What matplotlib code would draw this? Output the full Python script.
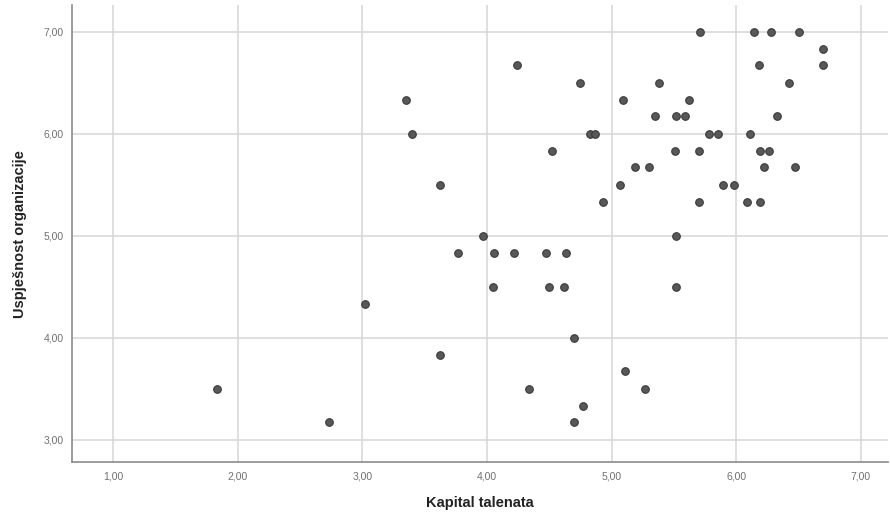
import numpy as np
import matplotlib
matplotlib.use('Agg')
import matplotlib.pyplot as plt
from matplotlib.ticker import FuncFormatter

plt.rcParams['font.family'] = ['Liberation Sans', 'DejaVu Sans']

# Kapital talenata (x) i Uspješnost organizacije (y)
kapital = [1.83, 2.73, 3.02, 3.35, 3.40, 3.62, 3.62,
           5.71, 6.14, 6.28, 6.50, 6.70,
           4.24, 6.18, 6.70,
           4.75, 5.38, 6.42,
           5.09, 5.62,
           5.35, 5.52, 5.59, 6.33,
           4.83, 4.87, 5.78, 5.85, 6.11,
           4.52, 5.51, 5.70, 6.19, 6.26,
           5.19, 5.30, 6.22, 6.47,
           5.07, 5.89, 5.98,
           4.93, 5.70, 6.09, 6.19,
           3.97, 5.52,
           3.77, 4.06, 4.22, 4.47, 4.63,
           4.05, 4.50, 4.62, 5.52,
           4.70,
           5.11,
           4.34, 5.27,
           4.77,
           4.70]
uspjesnost = [3.50, 3.17, 4.33, 6.33, 6.00, 5.50, 3.83,
              7.00, 7.00, 7.00, 7.00, 6.83,
              6.67, 6.67, 6.67,
              6.50, 6.50, 6.50,
              6.33, 6.33,
              6.17, 6.17, 6.17, 6.17,
              6.00, 6.00, 6.00, 6.00, 6.00,
              5.83, 5.83, 5.83, 5.83, 5.83,
              5.67, 5.67, 5.67, 5.67,
              5.50, 5.50, 5.50,
              5.33, 5.33, 5.33, 5.33,
              5.00, 5.00,
              4.83, 4.83, 4.83, 4.83, 4.83,
              4.50, 4.50, 4.50, 4.50,
              4.00,
              3.67,
              3.50, 3.50,
              3.33,
              3.17]

x_ticks = [1, 2, 3, 4, 5, 6, 7]
y_ticks = [3, 4, 5, 6, 7]

fig = plt.figure(figsize=(8.9, 5.18), dpi=100)
ax = fig.add_axes([0.081, 0.108, 0.917, 0.882])

ax.set_axisbelow(True)
ax.grid(True, color='#d6d6d6', linewidth=1.1)

ax.scatter(kapital, uspjesnost, s=30, color='#585858', edgecolors='#3a3a3a',
           linewidths=0.8, zorder=3)

ax.set_xlim(0.67, 7.22)
ax.set_ylim(2.78, 7.26)
ax.set_xticks(x_ticks)
ax.set_yticks(y_ticks)
fmt = FuncFormatter(lambda v, p: f'{v:.2f}'.replace('.', ','))
ax.xaxis.set_major_formatter(fmt)
ax.yaxis.set_major_formatter(fmt)
ax.tick_params(length=0, labelsize=7.5, colors='#707070')
ax.tick_params(axis='x', pad=7)
ax.tick_params(axis='y', pad=6)

for side in ['top', 'right']:
    ax.spines[side].set_visible(False)
for side in ['left', 'bottom']:
    ax.spines[side].set_color('#8a8a8a')
    ax.spines[side].set_linewidth(1.2)

ax.set_xlabel('Kapital talenata', fontsize=10.5, fontweight='bold', color='#222222', labelpad=10)
ax.set_ylabel('Uspješnost organizacije', fontsize=10.5, fontweight='bold', color='#222222', labelpad=12)

fig.savefig('out.png', dpi=100)
